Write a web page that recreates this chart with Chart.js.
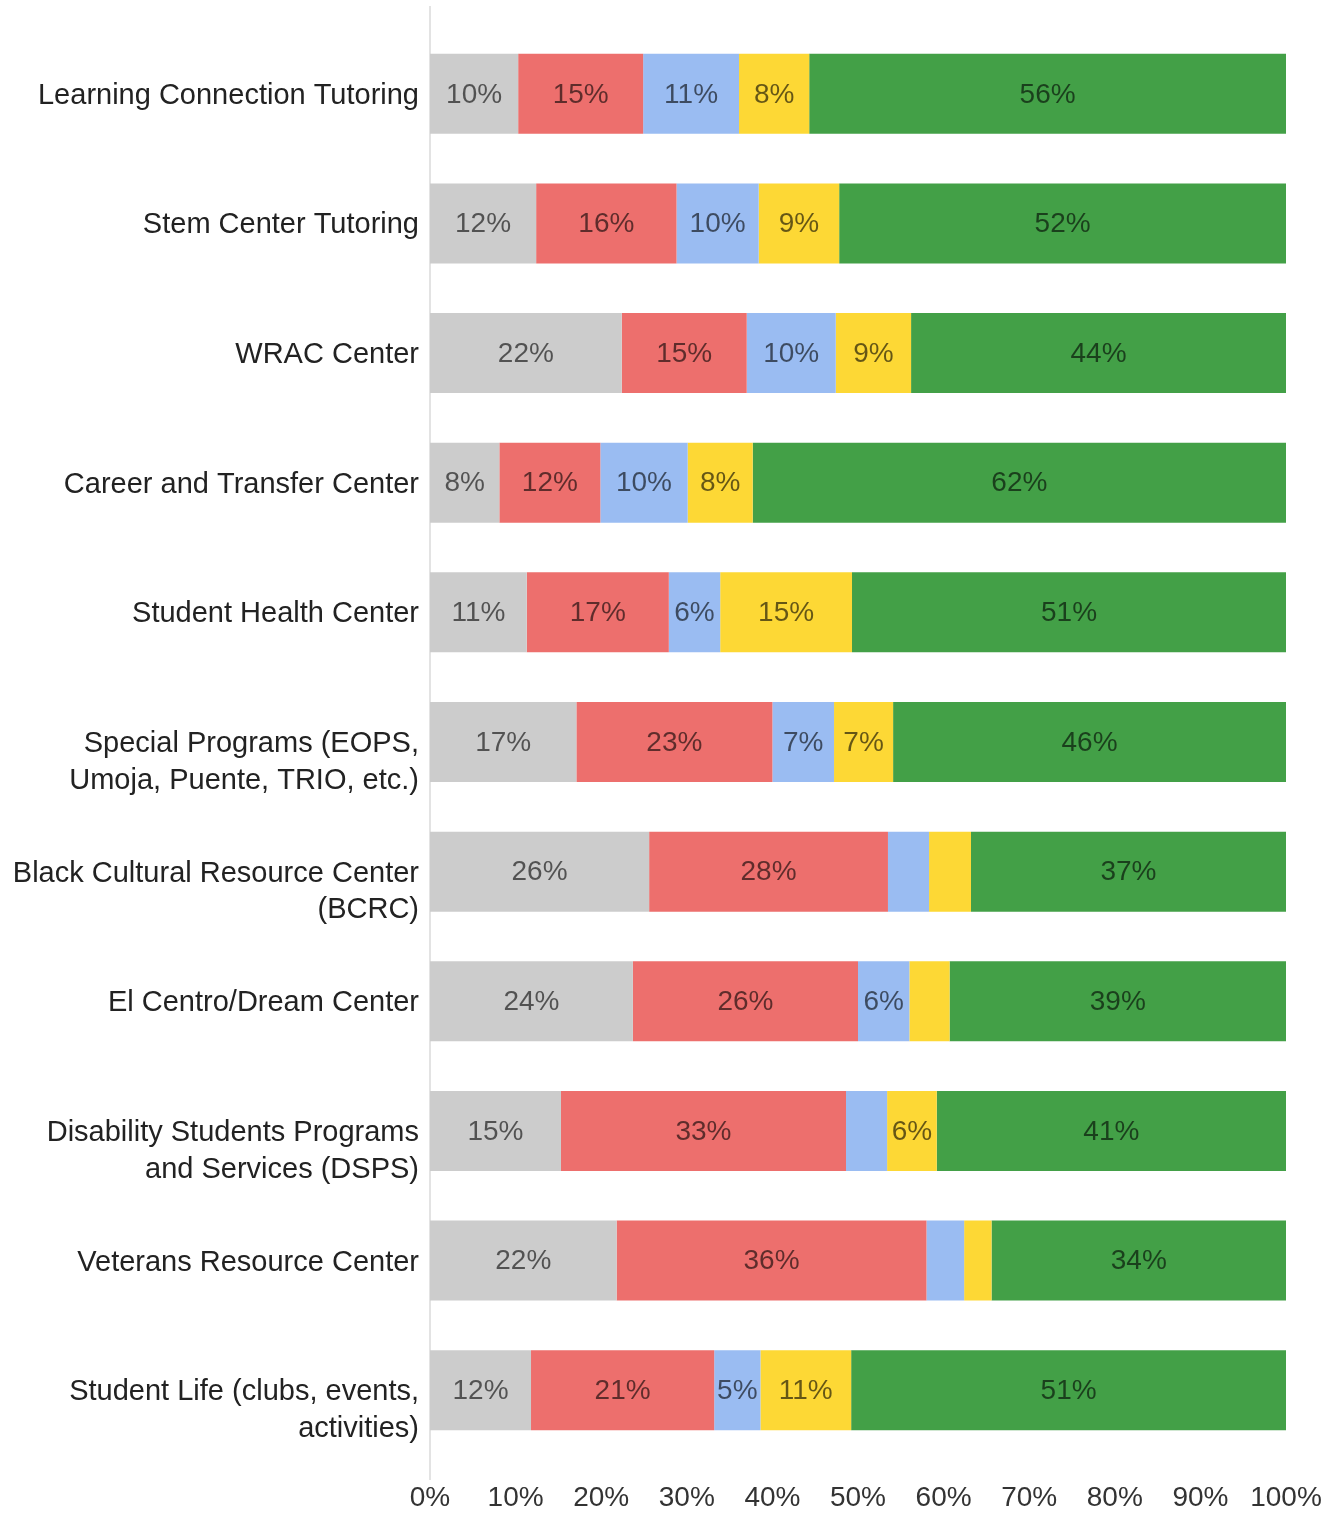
<!DOCTYPE html>
<html>
<head>
<meta charset="utf-8">
<script src="https://cdn.jsdelivr.net/npm/chart.js@4"></script>
<style>
  html, body { margin: 0; padding: 0; background: #fff; }
  #wrap { width: 1338px; height: 1514px; position: relative; }
</style>
</head>
<body>
<div id="wrap"><canvas id="myChart"></canvas></div>
<script>
// Data --------------------------------------------

const categories = [
  "Learning Connection Tutoring",
  "Stem Center Tutoring",
  "WRAC Center",
  "Career and Transfer Center",
  "Student Health Center",
  ["Special Programs (EOPS,", "Umoja, Puente, TRIO, etc.)"],
  ["Black Cultural Resource Center", "(BCRC)"],
  "El Centro/Dream Center",
  ["Disability Students Programs", "and Services (DSPS)"],
  "Veterans Resource Center",
  ["Student Life (clubs, events,", "activities)"]
];

const seriesNames = ["Series 1", "Series 2", "Series 3", "Series 4", "Series 5"];

const grayValues   = [10.3, 12.4, 22.4,  8.1, 11.3, 17.1, 25.6, 23.7, 15.3, 21.8, 11.8];
const redValues    = [14.6, 16.4, 14.6, 11.8, 16.6, 22.9, 27.9, 26.3, 33.3, 36.2, 21.4];
const blueValues   = [11.2,  9.6, 10.4, 10.2,  6.0,  7.2,  4.8,  6.0,  4.8,  4.4,  5.4];
const yellowValues = [ 8.2,  9.4,  8.8,  7.6, 15.4,  6.9,  4.9,  4.7,  5.8,  3.2, 10.6];
const greenValues  = [55.7, 52.2, 43.8, 62.3, 50.7, 45.9, 36.8, 39.3, 40.8, 34.4, 50.8];

const xTicks = [0, 10, 20, 30, 40, 50, 60, 70, 80, 90, 100];

const colors = ['#cccccc', '#ed6f6d', '#9abcf2', '#fdd835', '#43a047'];

// Plugins --------------------------------------------

// draws the value labels in the middle of each segment
const barLabels = {
  id: 'barLabels',
  afterDatasetsDraw(chart) {
    const ctx = chart.ctx;
    ctx.save();
    ctx.font = '28px "Liberation Sans", Arial, sans-serif';
    ctx.fillStyle = 'rgba(0,0,0,0.6)';
    ctx.textAlign = 'center';
    ctx.textBaseline = 'middle';
    chart.data.datasets.forEach((ds, i) => {
      chart.getDatasetMeta(i).data.forEach((bar, j) => {
        const v = ds.data[j];
        if (v < 5) return;
        const cx = (bar.x + bar.base) / 2;
        ctx.fillText(Math.round(v) + '%', cx, bar.y + 1);
      });
    });
    ctx.restore();
  }
};

// the thin line at 0%
const zeroLine = {
  id: 'zeroLine',
  beforeDatasetsDraw(chart) {
    const ctx = chart.ctx;
    const x = chart.scales.x.getPixelForValue(0);
    ctx.save();
    ctx.strokeStyle = '#e3e3e3';
    ctx.lineWidth = 2;
    ctx.beginPath();
    ctx.moveTo(x, 6);
    ctx.lineTo(x, 1480);
    ctx.stroke();
    ctx.restore();
  }
};

// Chart --------------------------------------------

const allValues = [grayValues, redValues, blueValues, yellowValues, greenValues];

let ctx = document.getElementById('myChart').getContext('2d');
let chart = new Chart(ctx, {
  type: 'bar',
  data: {
    labels: categories,
    datasets: allValues.map((vals, i) => ({
      label: seriesNames[i],
      data: vals,
      backgroundColor: colors[i],
      borderWidth: 0,
      categoryPercentage: 1,
      barPercentage: 0.617
    }))
  },
  options: {
    indexAxis: 'y',
    responsive: true,
    maintainAspectRatio: false,
    animation: false,
    layout: {
      padding: { top: 29, right: 52, bottom: 0, left: 0 }
    },
    plugins: {
      legend: { display: false },
      tooltip: { enabled: false }
    },
    scales: {
      x: {
        stacked: true,
        min: 0,
        max: 100,
        afterBuildTicks: (scale) => { scale.ticks = xTicks.map(v => ({ value: v })); },
        afterFit: (scale) => {
          scale.height = 59;
          scale.paddingLeft = 0;
          scale.paddingRight = 0;
        },
        grid: { display: false, drawTicks: false },
        border: { display: false },
        ticks: {
          padding: 26,
          color: '#333333',
          font: { family: '"Liberation Sans", Arial, sans-serif', size: 28 },
          callback: (v) => v + '%',
          maxRotation: 0,
          autoSkip: false
        }
      },
      y: {
        stacked: true,
        afterFit: (scale) => {
          scale.width = 430;
          scale.paddingTop = 0;
          scale.paddingBottom = 0;
        },
        grid: { display: false, drawTicks: false },
        border: { display: false },
        ticks: {
          padding: 11,
          labelOffset: 2,
          color: '#222222',
          font: { family: '"Liberation Sans", Arial, sans-serif', size: 29, lineHeight: 1.27 },
          autoSkip: false,
          // wrapped labels start at the bar centre, so push an empty line on top
          callback: function (v, i) {
            const lbl = categories[i];
            return Array.isArray(lbl) ? [''].concat(lbl) : lbl;
          }
        }
      }
    }
  },
  plugins: [zeroLine, barLabels]
});
</script>
</body>
</html>
